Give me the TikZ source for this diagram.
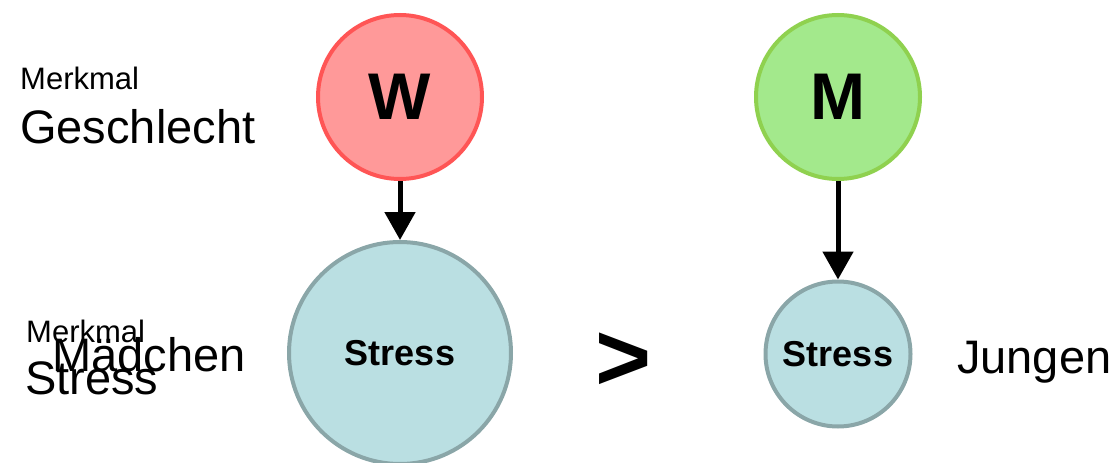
\documentclass[tikz,border=0pt]{standalone}
\usepackage{fontspec}
\setmainfont{Liberation Sans}
\usetikzlibrary{arrows.meta}
\definecolor{wfill}{HTML}{FF9999}
\definecolor{wline}{HTML}{FF5555}
\definecolor{mfill}{HTML}{A3E98C}
\definecolor{mline}{HTML}{8FD14F}
\definecolor{sfill}{HTML}{BADFE2}
\definecolor{sline}{HTML}{8AA6A8}
\tikzset{
  circ/.style={circle, line width=4pt, inner sep=0pt},
  wcirc/.style={circ, fill=wfill, draw=wline, minimum size=164pt, font=\fontsize{66}{66}\selectfont\bfseries},
  mcirc/.style={circ, fill=mfill, draw=mline, minimum size=164pt, font=\fontsize{66}{66}\selectfont\bfseries},
  scirc/.style={circ, fill=sfill, draw=sline, font=\fontsize{36}{36}\selectfont\bfseries},
  conn/.style={line width=5pt, -{Triangle[width=30pt,length=28pt]}},
  biglbl/.style={anchor=base west, inner sep=0pt, font=\fontsize{47}{47}\selectfont},
  smalllbl/.style={anchor=base west, inner sep=0pt, font=\fontsize{31}{31}\selectfont}
}
\begin{document}
\begin{tikzpicture}[x=1pt, y=-1pt]
\useasboundingbox (0,0) rectangle (1117,463);
\node[wcirc] (w) at (400,97) {W};
\node[scirc, minimum size=222pt] (sw) at (400,353) {Stress};
\node[mcirc] (m) at (838,97) {M};
\node[scirc, minimum size=145pt] (sm) at (838,354) {Stress};
\draw[conn] (w) -- (sw);
\draw[conn] (m) -- (sm);
\node[smalllbl] (mk1) at (20,89) {Merkmal};
\node[biglbl] (gs) at (20,143) {Geschlecht};
\node[smalllbl] (mk2) at (26,342) {Merkmal};
\node[biglbl] (md) at (52,371) {Mädchen};
\node[biglbl] (st) at (25,394) {Stress};
\node[biglbl] (jg) at (957,373) {Jungen};
\node[inner sep=0pt, font=\fontsize{96}{96}\selectfont\bfseries] (gt) at (624,362) {>};
\end{tikzpicture}
\end{document}
